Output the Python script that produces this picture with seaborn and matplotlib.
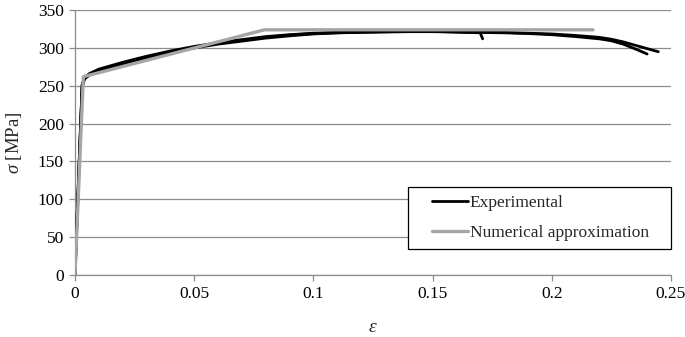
import numpy as np
import pandas as pd
import matplotlib
matplotlib.use("Agg")
import matplotlib.pyplot as plt
from matplotlib.patches import Rectangle
import seaborn as sns

# ---- data ----
eps_a = [0, 0.0015, 0.003, 0.004, 0.006, 0.01, 0.02, 0.03, 0.04, 0.05, 0.06, 0.07,
         0.08, 0.09, 0.10, 0.11, 0.12, 0.13, 0.14, 0.15, 0.16, 0.170, 0.1705, 0.171]
sig_a = [0, 130, 250, 260, 265, 271, 280, 288, 295, 301, 306, 310,
         314, 317, 319, 320, 321, 321.5, 322, 322, 321, 320, 316, 312]

eps_b = [0, 0.0015, 0.003, 0.004, 0.006, 0.01, 0.02, 0.03, 0.04, 0.05, 0.06, 0.07,
         0.08, 0.09, 0.10, 0.11, 0.12, 0.13, 0.14, 0.15, 0.16, 0.17, 0.18, 0.19,
         0.20, 0.21, 0.22, 0.225, 0.23, 0.2356, 0.240]
sig_b = [0, 125, 248, 259, 264, 270, 279, 287, 294, 300, 305, 309,
         313, 316, 318.5, 320, 320.5, 321, 321.5, 321.5, 321, 320.5, 320, 319,
         317.5, 315, 312, 309.5, 305, 298, 292]

eps_c = [0, 0.0015, 0.003, 0.004, 0.006, 0.01, 0.02, 0.03, 0.04, 0.05, 0.06, 0.07,
         0.08, 0.09, 0.10, 0.11, 0.12, 0.13, 0.14, 0.15, 0.16, 0.17, 0.18, 0.19,
         0.20, 0.21, 0.22, 0.225, 0.23, 0.2356, 0.2447]
sig_c = [0, 128, 252, 261, 266, 272, 281, 289, 296, 302, 307, 311,
         315, 317.5, 319.5, 320.5, 321.5, 322, 322, 322, 321.5, 321, 320.5, 319.5,
         318.5, 316.5, 314, 311.5, 308, 303, 295]

eps_num = [0, 0.0035, 0.0795, 0.2173]
sig_num = [0, 262, 324, 324]

x_ticks = [0, 0.05, 0.1, 0.15, 0.2, 0.25]
x_tick_labels = ["0", "0.05", "0.1", "0.15", "0.2", "0.25"]
y_ticks = [0, 50, 100, 150, 200, 250, 300, 350]
y_tick_labels = ["0", "50", "100", "150", "200", "250", "300", "350"]

# ---- style ----
sns.set_theme(style="white")
plt.rcParams["font.family"] = ["Liberation Serif", "DejaVu Serif"]
plt.rcParams["mathtext.fontset"] = "custom"
plt.rcParams["mathtext.it"] = "Liberation Serif:italic"
plt.rcParams["mathtext.rm"] = "Liberation Serif"

grid_c = "#8c8c8c"
fig = plt.figure(figsize=(6.85, 3.37), dpi=100)
ax = fig.add_axes([0.1095, 0.184, 0.87, 0.786])

exp_frames = []
for name, e, s in (("A", eps_a, sig_a), ("B", eps_b, sig_b), ("C", eps_c, sig_c)):
    exp_frames.append(pd.DataFrame({"eps": e, "sig": s, "specimen": name}))
exp_df = pd.concat(exp_frames, ignore_index=True)
num_df = pd.DataFrame({"eps": eps_num, "sig": sig_num})

for i, (name, g) in enumerate(exp_df.groupby("specimen")):
    sns.lineplot(data=g, x="eps", y="sig", ax=ax, color="black", lw=2.0,
                 sort=False, estimator=None,
                 label="Experimental" if i == 0 else None, zorder=3)
sns.lineplot(data=num_df, x="eps", y="sig", ax=ax, color="#a6a6a6", lw=2.4,
             sort=False, estimator=None, label="Numerical approximation", zorder=4)

ax.set_xlim(0, 0.25)
ax.set_ylim(0, 350)
ax.set_xticks(x_ticks)
ax.set_xticklabels(x_tick_labels)
ax.set_yticks(y_ticks)
ax.set_yticklabels(y_tick_labels)
ax.yaxis.grid(True, color=grid_c, lw=0.9)
ax.xaxis.grid(False)
ax.set_axisbelow(True)
for sp in ("top", "right"):
    ax.spines[sp].set_visible(False)
for sp in ("left", "bottom"):
    ax.spines[sp].set_color(grid_c)
    ax.spines[sp].set_linewidth(0.9)
ax.tick_params(axis="both", which="major", labelsize=12.5, colors="black",
               length=4, width=0.9, direction="out", color=grid_c,
               bottom=True, left=True, pad=4)

ax.set_xlabel(r"$\varepsilon$", fontsize=14)
ax.set_ylabel(r"$\sigma$ [MPa]", fontsize=13.5)
ax.yaxis.set_label_coords(-0.085, 0.5)
ax.xaxis.set_label_coords(0.5, -0.165)

# legend frame and entries
ax.add_patch(Rectangle((0.5587, 0.0981), 0.4413, 0.234, transform=ax.transAxes,
                       facecolor="white", edgecolor="black", lw=0.9, zorder=5,
                       clip_on=False))
leg = ax.legend(loc="center left", bbox_to_anchor=(0.599, 0.2151), fontsize=12.5,
                frameon=False, handlelength=2.05, handletextpad=0.12,
                borderpad=0, labelspacing=0.82, borderaxespad=0)
leg.set_zorder(6)

fig.savefig("out.png", dpi=100, facecolor="white")
